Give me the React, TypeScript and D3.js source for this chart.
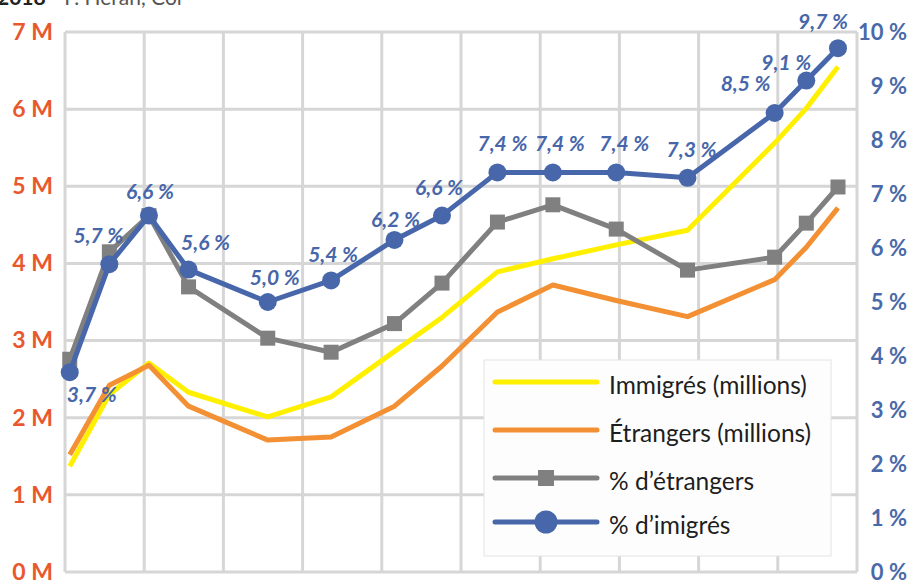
import React, { useEffect, useRef } from "react";
import * as d3 from "d3";

// census years (x axis)
const years = [1921, 1926, 1931, 1936, 1946, 1954, 1962, 1968, 1975, 1982, 1990, 1999, 2010, 2014, 2018];
// millions (left axis)
const immigres = [1.37, 2.3, 2.71, 2.33, 2.01, 2.27, 2.86, 3.3, 3.89, 4.06, 4.24, 4.43, 5.56, 6.01, 6.55];
const etrangers = [1.52, 2.42, 2.68, 2.15, 1.71, 1.75, 2.15, 2.67, 3.37, 3.72, 3.52, 3.31, 3.79, 4.21, 4.72];
// percentages (right axis)
const pctEtrangers = [3.94, 5.93, 6.6, 5.28, 4.33, 4.07, 4.6, 5.35, 6.48, 6.8, 6.35, 5.59, 5.83, 6.46, 7.13];
const pctImmigres = [3.7, 5.7, 6.6, 5.6, 5.0, 5.4, 6.15, 6.6, 7.4, 7.4, 7.4, 7.3, 8.5, 9.1, 9.7];
const pctLabels = ["3,7 %", "5,7 %", "6,6 %", "5,6 %", "5,0 %", "5,4 %", "6,2 %", "6,6 %", "7,4 %", "7,4 %", "7,4 %", "7,3 %", "8,5 %", "9,1 %", "9,7 %"];

const leftTicks = [0, 1, 2, 3, 4, 5, 6, 7];
const rightTicks = [0, 1, 2, 3, 4, 5, 6, 7, 8, 9, 10];
const legendItems = ["Immigrés (millions)", "Étrangers (millions)", "% d’étrangers", "% d’imigrés"];

// label placement relative to the point
const labelOffsets = [
  [22, 21], [-11, -30], [1, -25], [17, -28], [7, -26], [2, -27], [1, -21], [-3, -29],
  [5, -30], [7, -30], [8, -30], [4, -29], [-29, -31], [-20, -19], [-15, -28],
];

const BLUE = "#4767aa";
const GRAY = "#808080";
const YELLOW = "#fff000";
const ORANGE = "#f39033";
const GRID = "#d6d6d6";
const FONT = "Lato, 'Open Sans', sans-serif";

const App = () => {
  const svgRef = useRef<SVGSVGElement>(null);

  useEffect(() => {
    const W = 911, H = 582;
    const margin = { top: 32, right: 54, bottom: 10, left: 65 };
    const width = W - margin.left - margin.right;
    const height = H - margin.top - margin.bottom;

    const root = d3.select(svgRef.current).attr("width", W).attr("height", H);
    root.selectAll("*").remove();

    // title, mostly cut off at the top
    const title = root.append("text").attr("x", -3).attr("y", 5)
      .style("font-family", FONT).style("font-size", "21px");
    title.append("tspan").attr("font-weight", "bold").attr("fill", "#222").text("2018");
    title.append("tspan").attr("fill", "#555").text("  -  F. Héran, Col");

    const svg = root.append("g").attr("transform", `translate(${margin.left},${margin.top})`);

    const x = d3.scaleLinear().domain([1920.4, 2020.4]).range([0, width]);
    const yL = d3.scaleLinear().domain([0, 7]).range([height, 0]);
    const yR = d3.scaleLinear().domain([0, 10]).range([height, 0]);

    // grid
    const vgrid = d3.range(0, 11).map(k => 1920.4 + 10 * k);
    svg.append("g").selectAll("line").data(vgrid).enter().append("line")
      .attr("x1", d => x(d)).attr("x2", d => x(d)).attr("y1", 0).attr("y2", height)
      .attr("stroke", GRID).attr("stroke-width", 3);
    svg.append("g").selectAll("line").data(leftTicks).enter().append("line")
      .attr("x1", 0).attr("x2", width).attr("y1", d => yL(d)).attr("y2", d => yL(d))
      .attr("stroke", GRID).attr("stroke-width", 3);

    // axes labels
    const left = svg.append("g")
      .call(d3.axisLeft(yL).tickValues(leftTicks).tickSize(0).tickPadding(12).tickFormat(d => `${d} M`));
    left.select(".domain").remove();
    left.selectAll("text").style("font-family", FONT).style("font-size", "23px")
      .style("font-weight", "bold").attr("fill", "#e8582c");

    const right = svg.append("g").attr("transform", `translate(${width},0)`)
      .call(d3.axisRight(yR).tickValues(rightTicks).tickSize(0).tickFormat(d => `${d} %`));
    right.select(".domain").remove();
    right.selectAll("text").attr("x", 50).attr("text-anchor", "end")
      .style("font-family", FONT).style("font-size", "22px")
      .style("font-weight", "bold").attr("fill", "#4a69a8");

    const lineL = d3.line<number>().x((_, i) => x(years[i])).y(d => yL(d));
    const lineR = d3.line<number>().x((_, i) => x(years[i])).y(d => yR(d));

    const draw = (vals: number[], gen: d3.Line<number>, color: string) =>
      svg.append("path").datum(vals).attr("d", gen).attr("fill", "none")
        .attr("stroke", color).attr("stroke-width", 5).attr("stroke-linejoin", "round");

    draw(immigres, lineL, YELLOW);
    draw(etrangers, lineL, ORANGE);
    draw(pctEtrangers, lineR, GRAY);
    svg.append("g").selectAll("rect").data(pctEtrangers).enter().append("rect")
      .attr("x", (_, i) => x(years[i]) - 7.5).attr("y", d => yR(d) - 7.5)
      .attr("width", 15).attr("height", 15).attr("fill", GRAY);
    draw(pctImmigres, lineR, BLUE);
    svg.append("g").selectAll("circle").data(pctImmigres).enter().append("circle")
      .attr("cx", (_, i) => x(years[i])).attr("cy", d => yR(d)).attr("r", 9).attr("fill", BLUE);

    svg.append("g").selectAll("text").data(pctLabels).enter().append("text")
      .attr("x", (_, i) => x(years[i]) + labelOffsets[i][0])
      .attr("y", (_, i) => yR(pctImmigres[i]) + labelOffsets[i][1])
      .attr("text-anchor", "middle").attr("dominant-baseline", "central")
      .style("font-family", FONT).style("font-size", "21px").style("font-weight", "bold")
      .style("font-style", "italic").attr("fill", BLUE)
      .text(d => d);

    // legend
    const lg = root.append("g").attr("transform", "translate(484,360)");
    lg.append("rect").attr("width", 347).attr("height", 196)
      .attr("fill", "#fdfdfd").attr("stroke", "#e4e4e4").attr("stroke-width", 1);
    const colors = [YELLOW, ORANGE, GRAY, BLUE];
    const rowY = [22, 70, 118, 162];
    legendItems.forEach((name, i) => {
      const row = lg.append("g").attr("transform", `translate(0,${rowY[i]})`);
      row.append("line").attr("x1", 11).attr("x2", 113).attr("y1", 0).attr("y2", 0)
        .attr("stroke", colors[i]).attr("stroke-width", 5).attr("stroke-linecap", "round");
      if (i === 2) row.append("rect").attr("x", 54).attr("y", -8).attr("width", 16).attr("height", 16).attr("fill", GRAY);
      if (i === 3) row.append("circle").attr("cx", 62).attr("cy", 0).attr("r", 11.5).attr("fill", BLUE);
      row.append("text").attr("x", 125).attr("y", 2).attr("dominant-baseline", "central")
        .style("font-family", FONT).style("font-size", "24.5px").attr("fill", "#1e1e1e").text(name);
    });
  }, []);

  return <svg ref={svgRef} style={{ position: "absolute", left: 0, top: 0 }}></svg>;
};

export default App;
